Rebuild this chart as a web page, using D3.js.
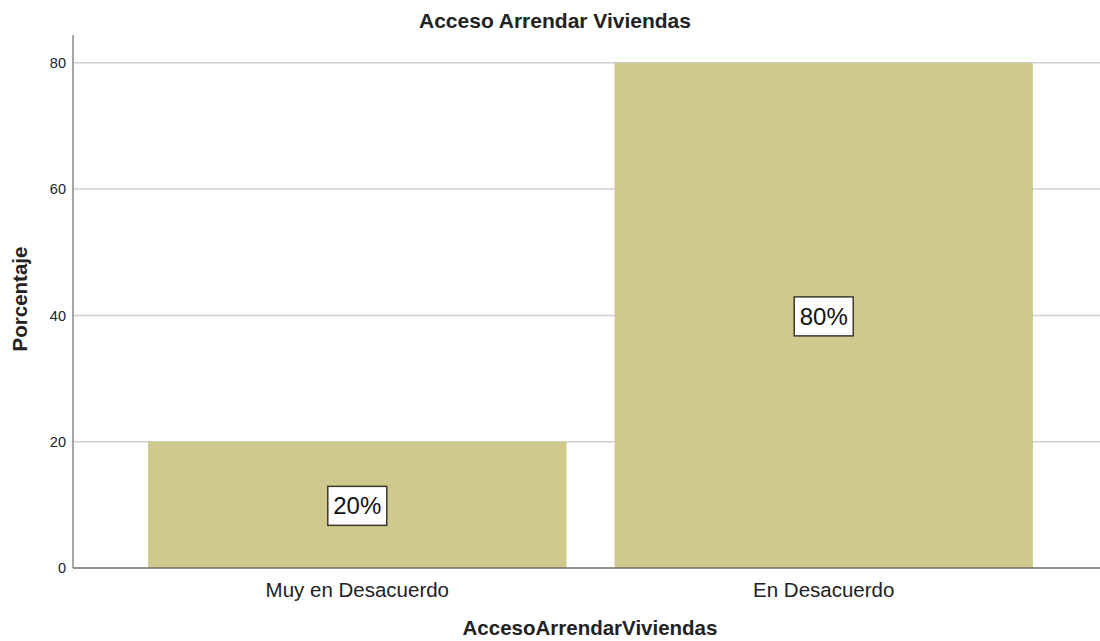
<!DOCTYPE html>
<html>
<head>
<meta charset="utf-8">
<script src="https://cdn.jsdelivr.net/npm/d3@7"></script>
<style>
  html, body { margin: 0; padding: 0; background: #fff; }
  svg { display: block; font-family: "Liberation Sans", Arial, sans-serif; }
</style>
</head>
<body>
<svg id="chart" width="1100" height="641"></svg>
<script>
const categories = ["Muy en Desacuerdo", "En Desacuerdo"];
const percentages = [20, 80];
const yTicks = [0, 20, 40, 60, 80];
const chartTitle = "Acceso Arrendar Viviendas";
const xTitle = "AccesoArrendarViviendas";
const yTitle = "Porcentaje";

const svg = d3.select("#chart");
const plotLeft = 73, plotRight = 1108, plotTop = 35, plotBottom = 568;

const x = d3.scaleBand()
  .domain(categories)
  .range([plotLeft, plotRight])
  .paddingInner(0.103)
  .paddingOuter(0.161);

const y = d3.scaleLinear().domain([0, 84.4]).range([plotBottom, plotTop]);

// horizontal grid lines
svg.append("g")
  .selectAll("line")
  .data(yTicks.filter(d => d > 0))
  .join("line")
  .attr("x1", plotLeft).attr("x2", 1100)
  .attr("y1", d => y(d)).attr("y2", d => y(d))
  .attr("stroke", "#cfcfcf").attr("stroke-width", 1.5);

// bars
svg.append("g")
  .selectAll("rect")
  .data(percentages)
  .join("rect")
  .attr("x", (d, i) => x(categories[i]))
  .attr("width", x.bandwidth())
  .attr("y", d => y(d))
  .attr("height", d => y(0) - y(d))
  .attr("fill", "#cfc98d");

// y axis
const yAxis = svg.append("g")
  .attr("transform", `translate(${plotLeft},0)`)
  .call(d3.axisLeft(y).tickValues(yTicks).tickSize(0).tickPadding(7));
yAxis.select(".domain").remove();
yAxis.selectAll("text").attr("font-size", 14.5).attr("fill", "#222")
  .attr("font-family", "'Liberation Sans', Arial, sans-serif");
svg.append("line")
  .attr("x1", plotLeft).attr("x2", plotLeft)
  .attr("y1", plotTop).attr("y2", plotBottom)
  .attr("stroke", "#8a8a8a").attr("stroke-width", 1.5);

// x axis
const xAxis = svg.append("g")
  .attr("transform", `translate(0,${plotBottom})`)
  .call(d3.axisBottom(x).tickSize(0).tickPadding(14));
xAxis.select(".domain").remove();
xAxis.selectAll("text").attr("font-size", 20.5).attr("fill", "#222")
  .attr("font-family", "'Liberation Sans', Arial, sans-serif");
svg.append("line")
  .attr("x1", plotLeft).attr("x2", 1100)
  .attr("y1", plotBottom).attr("y2", plotBottom)
  .attr("stroke", "#6e6e6e").attr("stroke-width", 1.5);

// value labels in boxes at the middle of each bar
const labels = svg.append("g")
  .selectAll("g")
  .data(percentages)
  .join("g")
  .attr("transform", (d, i) => `translate(${x(categories[i]) + x.bandwidth() / 2},${y(d / 2) + 1})`);
labels.append("rect")
  .attr("x", -29.5).attr("y", -19.5).attr("width", 59).attr("height", 39)
  .attr("fill", "#fff").attr("stroke", "#3a3a2a").attr("stroke-width", 1.5);
labels.append("text")
  .attr("text-anchor", "middle").attr("dy", "0.36em")
  .attr("font-size", 24).attr("fill", "#111")
  .text(d => d + "%");

// titles
svg.append("text")
  .attr("x", 555).attr("y", 28)
  .attr("text-anchor", "middle").attr("font-size", 21).attr("font-weight", "bold")
  .attr("fill", "#222").text(chartTitle);
svg.append("text")
  .attr("x", 590).attr("y", 635)
  .attr("text-anchor", "middle").attr("font-size", 20.5).attr("font-weight", "bold")
  .attr("fill", "#222").text(xTitle);
svg.append("text")
  .attr("transform", "translate(27,299) rotate(-90)")
  .attr("text-anchor", "middle").attr("font-size", 20.5).attr("font-weight", "bold")
  .attr("fill", "#222").text(yTitle);
</script>
</body>
</html>
